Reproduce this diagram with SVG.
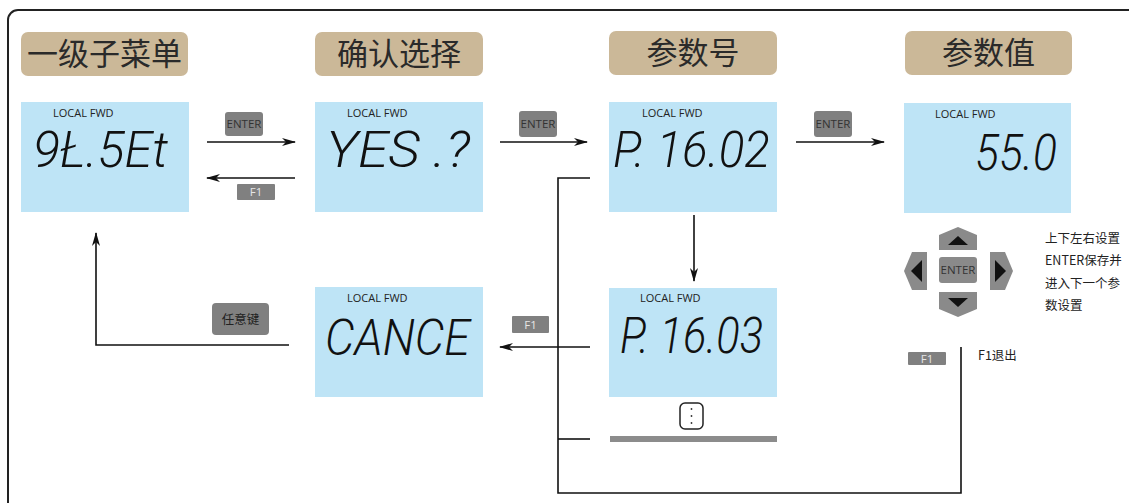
<svg xmlns="http://www.w3.org/2000/svg" width="1129" height="503" viewBox="0 0 1129 503">
<style>
.title{fill:#cbb898}
.tt{font-family:"Noto Sans CJK SC","Noto Sans",sans-serif;font-size:31px;fill:#2a2a2a;text-anchor:middle}
.lcd{fill:#bee4f6}
.lab{font-family:"Open Sans","Liberation Sans",sans-serif;font-size:11px;fill:#222}
.seg{font-family:Roboto,"Liberation Sans",sans-serif;font-weight:300;font-style:italic;font-size:49px;fill:#111}
.badge{fill:#808080}
.bt{font-family:"Open Sans","Liberation Sans",sans-serif;font-size:11.5px;text-anchor:middle}
.dk{fill:#333}
.lt{fill:#e6e6e6}
.cn{font-family:"Noto Sans CJK SC",sans-serif;font-size:12.5px;fill:#222}
.ln{fill:none;stroke:#111;stroke-width:1.6}
.key{fill:#8a8a8a}
</style>
<defs>
<marker id="ah" viewBox="0 0 14 8" refX="13" refY="4" markerWidth="14" markerHeight="8" markerUnits="userSpaceOnUse" orient="auto">
<path d="M0,0 L14,4 L0,8 L4,4 z" fill="#111"/>
</marker>
</defs>
<rect x="8" y="10" width="1150" height="520" rx="10" fill="#fff" stroke="#222" stroke-width="2"/>

<g id="title1"><rect class="title" x="21" y="32" width="167" height="44" rx="7"/><text class="tt" x="104.5" y="65">一级子菜单</text></g>
<g id="title2"><rect class="title" x="315" y="32" width="168" height="44" rx="7"/><text class="tt" x="399" y="65">确认选择</text></g>
<g id="title3"><rect class="title" x="609" y="31" width="168" height="44" rx="7"/><text class="tt" x="693" y="64">参数号</text></g>
<g id="title4"><rect class="title" x="905" y="31" width="167" height="44" rx="7"/><text class="tt" x="988.5" y="64">参数值</text></g>

<g id="lcd1"><rect class="lcd" x="21" y="102" width="168" height="110"/><text class="lab" x="53" y="117">LOCAL FWD</text><text class="seg" x="33" y="167" textLength="135" lengthAdjust="spacingAndGlyphs">9Ł.5Et</text></g>
<g id="lcd2"><rect class="lcd" x="315" y="102" width="168" height="110"/><text class="lab" x="347" y="117">LOCAL FWD</text><text class="seg" x="326" y="167" textLength="144" lengthAdjust="spacingAndGlyphs">YES .?</text></g>
<g id="lcd3"><rect class="lcd" x="609" y="102" width="168" height="110"/><text class="lab" x="642" y="117">LOCAL FWD</text><text class="seg" x="613" y="167" textLength="157" lengthAdjust="spacingAndGlyphs">P. 16.02</text></g>
<g id="lcd4"><rect class="lcd" x="904" y="103" width="167" height="110"/><text class="lab" x="935" y="118">LOCAL FWD</text><text class="seg" x="975" y="170" textLength="82" lengthAdjust="spacingAndGlyphs">55.0</text></g>
<g id="lcd5"><rect class="lcd" x="315" y="287" width="168" height="110"/><text class="lab" x="347" y="302">LOCAL FWD</text><text class="seg" x="325" y="355" textLength="145" lengthAdjust="spacingAndGlyphs">CANCE</text></g>
<g id="lcd6"><rect class="lcd" x="609" y="288" width="168" height="109"/><text class="lab" x="640" y="302">LOCAL FWD</text><text class="seg" x="620" y="353" textLength="143" lengthAdjust="spacingAndGlyphs">P. 16.03</text></g>

<g id="more"><rect x="680" y="403" width="23" height="26" rx="5" fill="#fff" stroke="#222" stroke-width="1.5"/><circle cx="691.5" cy="409" r="0.9" fill="#333"/><circle cx="691.5" cy="416" r="0.9" fill="#333"/><circle cx="691.5" cy="423" r="0.9" fill="#333"/><rect x="610" y="436" width="167" height="6" fill="#8c8c8c"/></g>

<g id="keypad">
<path class="key" d="M939,250 V235 L958,227 L977,235 V250 Z"/><path d="M948,245 L958,236 L968,245 Z" fill="#111"/>
<rect class="key" x="939" y="257" width="38" height="26" rx="3"/><text class="bt dk" x="958" y="274">ENTER</text>
<path class="key" d="M927,252 H912 L904,271 L912,290 H927 Z"/><path d="M922,260 L911,271 L922,282 Z" fill="#111"/>
<path class="key" d="M990,252 H1005 L1013,271 L1005,290 H990 Z"/><path d="M995,260 L1006,271 L995,282 Z" fill="#111"/>
<path class="key" d="M939,292 V309 L958,317 L977,309 V292 Z"/><path d="M948,298 L958,307 L968,298 Z" fill="#111"/>
</g>
<g id="notes">
<text class="cn" x="1045" y="243">上下左右设置</text>
<text class="cn" x="1045" y="265">ENTER保存并</text>
<text class="cn" x="1045" y="288">进入下一个参</text>
<text class="cn" x="1045" y="310">数设置</text>
<rect class="badge" x="908" y="352" width="38" height="13" rx="1"/><text class="bt lt" x="927" y="363">F1</text>
<text class="cn" x="978" y="360">F1退出</text>
</g>

<g id="connectors">
<line class="ln" x1="207" y1="142" x2="295" y2="142" marker-end="url(#ah)"/>
<line class="ln" x1="295" y1="178" x2="207" y2="178" marker-end="url(#ah)"/>
<line class="ln" x1="500" y1="142" x2="587" y2="142" marker-end="url(#ah)"/>
<line class="ln" x1="796" y1="142" x2="884" y2="142" marker-end="url(#ah)"/>
<line class="ln" x1="694" y1="215" x2="694" y2="281" marker-end="url(#ah)"/>
<line class="ln" x1="590" y1="347" x2="500" y2="347" marker-end="url(#ah)"/>
<path class="ln" stroke-width="2" d="M590,178 H558 V493 H961 V347"/>
<line class="ln" stroke-width="2" x1="558" y1="439" x2="590" y2="439"/>
<path class="ln" stroke-width="2" d="M289,345 H96 V233" marker-end="url(#ah)"/>
</g>

<g id="labels">
<rect class="badge" x="225" y="112" width="38" height="24" rx="3"/><text class="bt dk" x="244" y="128">ENTER</text>
<rect class="badge" x="237" y="184" width="38" height="16" rx="1"/><text class="bt lt" x="256" y="196">F1</text>
<rect class="badge" x="519" y="111" width="38" height="26" rx="3"/><text class="bt dk" x="538" y="128">ENTER</text>
<rect class="badge" x="814" y="111" width="38" height="26" rx="3"/><text class="bt dk" x="833" y="128">ENTER</text>
<rect class="badge" x="512" y="316" width="37" height="17" rx="1"/><text class="bt lt" x="530.5" y="329">F1</text>
<rect class="badge" x="212" y="303" width="57" height="32" rx="4"/><text class="cn dk" x="240.5" y="324" text-anchor="middle" font-size="14">任意键</text>
</g>
</svg>
